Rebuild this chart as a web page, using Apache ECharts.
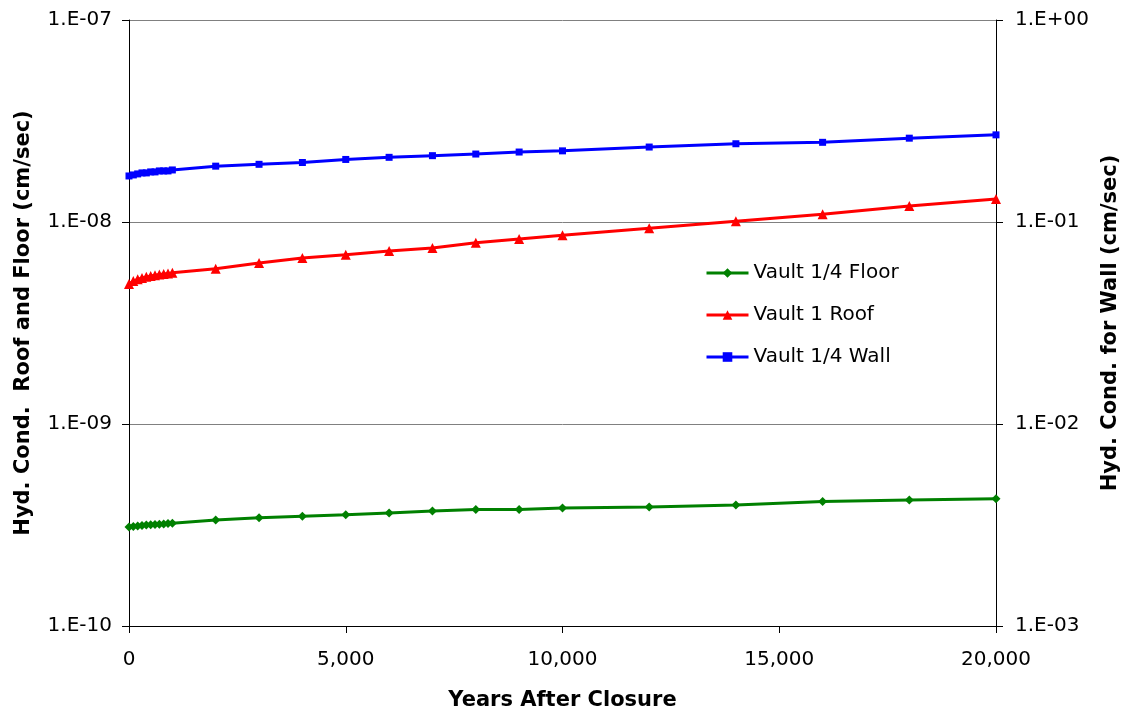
<!DOCTYPE html>
<html>
<head>
<meta charset="utf-8">
<script src="https://cdn.jsdelivr.net/npm/echarts@6/dist/echarts.min.js"></script>
<style>html,body{margin:0;padding:0;background:#fff}#c{width:1128px;height:715px}</style>
</head>
<body>
<div id="c"></div>
<script>
const years = [0,100,200,300,400,500,600,700,800,900,1000,2000,3000,4000,5000,6000,7000,8000,9000,10000,12000,14000,16000,18000,20000];
const floorVals = [3.09e-10,3.11e-10,3.13e-10,3.14e-10,3.16e-10,3.17e-10,3.18e-10,3.19e-10,3.20e-10,3.22e-10,3.23e-10,3.35e-10,3.43e-10,3.49e-10,3.55e-10,3.63e-10,3.71e-10,3.77e-10,3.77e-10,3.84e-10,3.88e-10,3.97e-10,4.13e-10,4.20e-10,4.26e-10];
const roofVals = [4.93e-9,5.10e-9,5.20e-9,5.28e-9,5.35e-9,5.40e-9,5.45e-9,5.50e-9,5.53e-9,5.56e-9,5.60e-9,5.87e-9,6.27e-9,6.63e-9,6.89e-9,7.19e-9,7.43e-9,7.90e-9,8.23e-9,8.59e-9,9.31e-9,1.008e-8,1.092e-8,1.20e-8,1.30e-8];
const wallVals = [0.169,0.171,0.173,0.175,0.175,0.177,0.177,0.179,0.179,0.179,0.181,0.189,0.193,0.197,0.204,0.209,0.213,0.217,0.222,0.225,0.235,0.244,0.248,0.260,0.270];
const seriesNames = ['Vault 1/4 Floor','Vault 1 Roof','Vault 1/4 Wall'];
const xTicks = [0,5000,10000,15000,20000];

const FONT = 'DejaVu Sans';
function sci(v){
  const e = Math.round(Math.log10(v));
  const s = e < 0 ? '-' : '+';
  const a = Math.abs(e);
  return '1.E' + s + (a < 10 ? '0' + a : '' + a);
}
function pairs(vals){ return years.map((x,i)=>[x, vals[i]]); }

const chart = echarts.init(document.getElementById('c'), null, {renderer:'canvas'});
chart.setOption({
  animation:false,
  backgroundColor:'#ffffff',
  grid:{left:129, right:132, top:20, bottom:89, containLabel:false, outerBoundsMode:'none'},
  legend:{
    orient:'vertical', left:700, top:258, itemGap:22, itemWidth:42, itemHeight:12,
    lineStyle:{width:3},
    textStyle:{fontFamily:FONT, fontSize:20, color:'#000'},
    data:seriesNames
  },
  xAxis:{
    type:'value', min:0, max:20000, interval:5000,
    name:'Years After Closure', nameLocation:'middle', nameGap:64,
    nameTextStyle:{fontFamily:FONT, fontSize:21, fontWeight:'bold', color:'#000'},
    axisLine:{lineStyle:{color:'#000', width:1}},
    axisTick:{show:true, length:7, lineStyle:{color:'#000'}},
    axisLabel:{margin:24, fontFamily:FONT, fontSize:20, color:'#000',
      formatter:v=>v.toLocaleString('en-US')},
    splitLine:{show:false}
  },
  yAxis:[
    {
      type:'log', logBase:10, min:1e-10, max:1e-7,
      name:'Hyd. Cond.  Roof and Floor (cm/sec)', nameLocation:'middle', nameGap:95, nameRotate:90,
      nameTextStyle:{fontFamily:FONT, fontSize:21, fontWeight:'bold', color:'#000'},
      axisLine:{show:true, lineStyle:{color:'#000', width:1}},
      axisTick:{show:true, length:7, lineStyle:{color:'#000'}},
      axisLabel:{margin:17, fontFamily:FONT, fontSize:20, color:'#000', formatter:sci},
      splitLine:{show:true, lineStyle:{color:'#808080', width:1}},
      minorTick:{show:false}
    },
    {
      type:'log', logBase:10, min:1e-3, max:1,
      position:'right',
      name:'Hyd. Cond. for Wall (cm/sec)', nameLocation:'middle', nameGap:102, nameRotate:90,
      nameTextStyle:{fontFamily:FONT, fontSize:21, fontWeight:'bold', color:'#000'},
      axisLine:{show:true, lineStyle:{color:'#000', width:1}},
      axisTick:{show:true, length:7, lineStyle:{color:'#000'}},
      axisLabel:{margin:19, fontFamily:FONT, fontSize:20, color:'#000', formatter:sci},
      splitLine:{show:false}
    }
  ],
  series:[
    {name:seriesNames[0], type:'line', yAxisIndex:0, data:pairs(floorVals),
     symbol:'diamond', symbolSize:9, color:'#008000',
     lineStyle:{width:3, color:'#008000'}, itemStyle:{color:'#008000'}},
    {name:seriesNames[1], type:'line', yAxisIndex:0, data:pairs(roofVals),
     symbol:'triangle', symbolSize:10, color:'#ff0000',
     lineStyle:{width:3, color:'#ff0000'}, itemStyle:{color:'#ff0000'}},
    {name:seriesNames[2], type:'line', yAxisIndex:1, data:pairs(wallVals),
     symbol:'rect', symbolSize:7, color:'#0000ff',
     lineStyle:{width:3, color:'#0000ff'}, itemStyle:{color:'#0000ff'}}
  ]
});
</script>
</body>
</html>
